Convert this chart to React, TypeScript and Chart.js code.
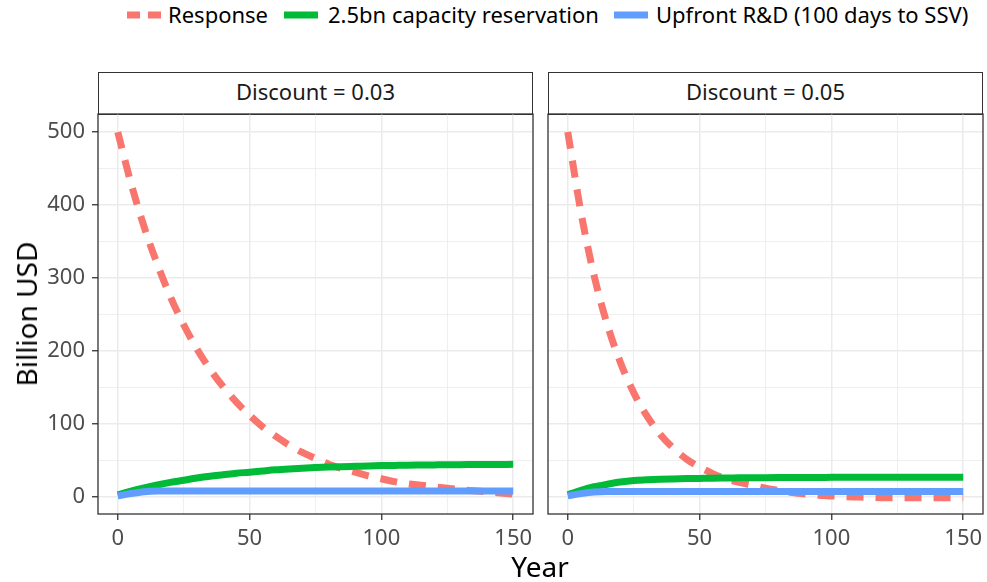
import React, { useEffect, useRef } from "react";
import { Chart, registerables } from "chart.js";

Chart.register(...registerables);

// ---------------- data ----------------
const years = [0, 5, 10, 15, 20, 25, 30, 35, 40, 45, 50, 55, 60, 65, 70, 75, 80, 85, 90, 95, 100, 105, 110, 115, 120, 125, 130, 135, 140, 145, 150];

const response003 = [500, 430, 370, 319, 274, 236, 203, 175, 151, 130, 112, 96, 83, 71, 61, 53, 45, 39, 34, 29, 25, 21, 18, 16, 14, 12, 10, 8.5, 7, 5.5, 4];
const capacity003 = [3, 8, 12.5, 16.5, 20, 23, 26, 28.5, 30.5, 32.5, 34, 35.7, 37.3, 38.5, 39.5, 40.3, 41, 41.6, 42.1, 42.6, 43, 43.3, 43.6, 43.8, 44, 44.2, 44.3, 44.4, 44.5, 44.6, 44.7];
const upfront003 = [1.5, 4.8, 7.3, 8.2, 8.2, 8.2, 8.2, 8.2, 8.2, 8.2, 8.2, 8.2, 8.2, 8.2, 8.2, 8.2, 8.2, 8.2, 8.2, 8.2, 8.2, 8.2, 8.2, 8.2, 8.2, 8.2, 8.2, 8.2, 8.2, 8.2, 8.2];

const response005 = [500, 390, 303, 236, 184, 143, 111, 86, 67, 52, 41, 32, 25, 20, 16, 12, 9, 6, 4, 2.5, 1.5, 0.5, 0, -0.5, -1, -1, -1, -1, -1, -1, -1];
const capacity005 = [3, 9, 14, 17.5, 20.5, 22.5, 23.5, 24.3, 24.8, 25.2, 25.5, 25.8, 26, 26.2, 26.4, 26.5, 26.6, 26.7, 26.8, 26.8, 26.9, 26.9, 27, 27, 27, 27, 27, 27, 27, 27, 27];
const upfront005 = [1.5, 4.6, 6.8, 7.4, 7.4, 7.4, 7.4, 7.4, 7.4, 7.4, 7.4, 7.4, 7.4, 7.4, 7.4, 7.4, 7.4, 7.4, 7.4, 7.4, 7.4, 7.4, 7.4, 7.4, 7.4, 7.4, 7.4, 7.4, 7.4, 7.4, 7.4];

const seriesNames = ["Response", "2.5bn capacity reservation", "Upfront R&D (100 days to SSV)"];
const seriesColors = ["#F8766D", "#00BA38", "#619CFF"];
const panelTitles = ["Discount = 0.03", "Discount = 0.05"];

const xMajorTicks = [0, 50, 100, 150];
const xGridTicks = [0, 25, 50, 75, 100, 125, 150];
const yMajorTicks = [0, 100, 200, 300, 400, 500];
const yGridTicks = [0, 50, 100, 150, 200, 250, 300, 350, 400, 450, 500];

const X_MIN = -7.5;
const X_MAX = 157.5;
const Y_MIN = -23.3;
const Y_MAX = 524.7;

const FONT = "'Noto Sans', 'Open Sans', sans-serif";
const DASH = [17, 12];
const LINE_W = 7;
const SMALL = 22;
const TITLE = 28;

const toPoints = (xs: number[], ys: number[]) => xs.map((x, i) => ({ x, y: ys[i] }));

const borderPlugin = {
  id: "panelBorder",
  afterDatasetsDraw(chart: any) {
    const { ctx, chartArea } = chart;
    const { left, top, right, bottom } = chartArea;
    ctx.save();
    ctx.strokeStyle = "#333333";
    ctx.lineWidth = 1.3;
    ctx.strokeRect(left, top, right - left, bottom - top);
    ctx.restore();
  },
};

type PanelProps = {
  response: number[];
  capacity: number[];
  upfront: number[];
  showY: boolean;
  width: number;
  height: number;
  padLeft: number;
  padRight: number;
};

function Panel({ response, capacity, upfront, showY, width, height, padLeft, padRight }: PanelProps) {
  const ref = useRef<HTMLCanvasElement | null>(null);
  useEffect(() => {
    if (!ref.current) return;
    const chart = new Chart(ref.current, {
      type: "line",
      data: {
        datasets: [
          {
            label: seriesNames[0],
            data: toPoints(years, response),
            borderColor: seriesColors[0],
            borderWidth: LINE_W,
            borderDash: DASH,
            borderCapStyle: "butt",
            pointRadius: 0,
            fill: false,
            cubicInterpolationMode: "monotone",
            order: 2,
          },
          {
            label: seriesNames[1],
            data: toPoints(years, capacity),
            borderColor: seriesColors[1],
            borderWidth: LINE_W,
            pointRadius: 0,
            fill: false,
            cubicInterpolationMode: "monotone",
            order: 1,
          },
          {
            label: seriesNames[2],
            data: toPoints(years, upfront),
            borderColor: seriesColors[2],
            borderWidth: LINE_W,
            pointRadius: 0,
            fill: false,
            cubicInterpolationMode: "monotone",
            order: 0,
          },
        ],
      },
      options: {
        animation: false,
        responsive: false,
        maintainAspectRatio: false,
        events: [],
        layout: { padding: { left: padLeft, right: padRight, top: 10, bottom: 0 } },
        plugins: { legend: { display: false }, tooltip: { enabled: false } },
        scales: {
          x: {
            type: "linear",
            min: X_MIN,
            max: X_MAX,
            afterBuildTicks: (s: any) => {
              s.ticks = xGridTicks.map((v) => ({ value: v }));
            },
            afterFit: (s: any) => {
              s.height = 40;
              s.paddingLeft = 0;
              s.paddingRight = 0;
              s.paddingTop = 0;
              s.paddingBottom = 0;
            },
            ticks: {
              autoSkip: false,
              maxRotation: 0,
              padding: 6,
              color: "#4D4D4D",
              font: { family: FONT, size: SMALL },
              callback: (v: any) => (xMajorTicks.includes(Number(v)) ? String(v) : ""),
            },
            grid: {
              color: "#EBEBEB",
              lineWidth: (c: any) => (xMajorTicks.includes(c.tick?.value) ? 1.5 : 0.8),
              tickColor: (c: any) => (xMajorTicks.includes(c.tick?.value) ? "#333333" : "rgba(0,0,0,0)"),
              tickLength: 6,
              tickWidth: 1.3,
              drawTicks: true,
            },
            border: { display: false },
          },
          y: {
            type: "linear",
            min: Y_MIN,
            max: Y_MAX,
            afterBuildTicks: (s: any) => {
              s.ticks = yGridTicks.map((v) => ({ value: v }));
            },
            afterFit: (s: any) => {
              s.width = showY ? 98 : 0;
              s.paddingLeft = 0;
              s.paddingRight = 0;
              s.paddingTop = 0;
              s.paddingBottom = 0;
            },
            ticks: {
              display: showY,
              autoSkip: false,
              padding: 7,
              color: "#4D4D4D",
              font: { family: FONT, size: SMALL },
              callback: (v: any) => (yMajorTicks.includes(Number(v)) ? String(v) : ""),
            },
            grid: {
              color: "#EBEBEB",
              lineWidth: (c: any) => (yMajorTicks.includes(c.tick?.value) ? 1.5 : 0.8),
              tickColor: (c: any) => (showY && yMajorTicks.includes(c.tick?.value) ? "#333333" : "rgba(0,0,0,0)"),
              tickLength: 6,
              tickWidth: 1.3,
              drawTicks: showY,
            },
            border: { display: false },
          },
        },
      } as any,
      plugins: [borderPlugin],
    } as any);
    return () => chart.destroy();
  }, []);
  return <canvas ref={ref} width={width} height={height} style={{ width, height, display: "block" }} />;
}

function LegendKey({ color, dashed }: { color: string; dashed: boolean }) {
  return (
    <svg width={34} height={10} style={{ display: "block" }}>
      <line
        x1={0}
        y1={5}
        x2={34}
        y2={5}
        stroke={color}
        strokeWidth={LINE_W}
        strokeDasharray={dashed ? "13,8" : undefined}
      />
    </svg>
  );
}

const legendLayout = [
  { keyLeft: 127, textLeft: 168 },
  { keyLeft: 284, textLeft: 328 },
  { keyLeft: 614, textLeft: 656 },
];

const stripBoxes = [
  { left: 98, width: 435 },
  { left: 548, width: 435 },
];

export default function App() {
  useEffect(() => {
    document.body.style.margin = "0";
  }, []);
  const textBase: React.CSSProperties = { position: "absolute", fontFamily: FONT, whiteSpace: "nowrap" };
  return (
    <div style={{ position: "fixed", left: 0, top: 0, width: 987, height: 582, background: "#FFFFFF", overflow: "hidden" }}>
      {/* legend */}
      {seriesNames.map((name, i) => (
        <React.Fragment key={name}>
          <div style={{ position: "absolute", left: legendLayout[i].keyLeft, top: 10 }}>
            <LegendKey color={seriesColors[i]} dashed={i === 0} />
          </div>
          <div style={{ ...textBase, left: legendLayout[i].textLeft, top: -1, height: 30, lineHeight: "30px", fontSize: SMALL, color: "#000000" }}>
            {name}
          </div>
        </React.Fragment>
      ))}

      {/* strips */}
      {panelTitles.map((t, i) => (
        <div
          key={t}
          style={{
            position: "absolute",
            left: stripBoxes[i].left,
            top: 72,
            width: stripBoxes[i].width,
            height: 43,
            boxSizing: "border-box",
            border: "1.3px solid #333333",
            paddingBottom: 5,
            background: "#FFFFFF",
            display: "flex",
            alignItems: "center",
            justifyContent: "center",
            fontFamily: FONT,
            fontSize: SMALL,
            color: "#1A1A1A",
          }}
        >
          {t}
        </div>
      ))}

      {/* panels */}
      <div style={{ position: "absolute", left: 0, top: 104 }}>
        <Panel response={response003} capacity={capacity003} upfront={upfront003} showY={true} width={540} height={450} padLeft={0} padRight={7} />
      </div>
      <div style={{ position: "absolute", left: 540, top: 104 }}>
        <Panel response={response005} capacity={capacity005} upfront={upfront005} showY={false} width={447} height={450} padLeft={8} padRight={4} />
      </div>

      {/* axis titles */}
      <div
        style={{
          ...textBase,
          left: 26,
          top: 314,
          fontSize: TITLE,
          color: "#000000",
          transform: "translate(-50%, -50%) rotate(-90deg)",
        }}
      >
        Billion USD
      </div>
      <div style={{ ...textBase, left: 540, top: 566, fontSize: TITLE, color: "#000000", transform: "translate(-50%, -50%)" }}>Year</div>
    </div>
  );
}
